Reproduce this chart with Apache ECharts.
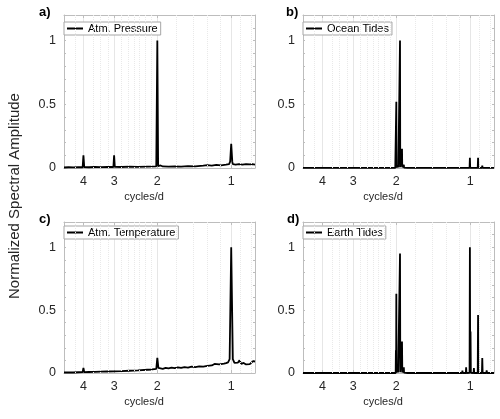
<!DOCTYPE html>
<html>
<head>
<meta charset="utf-8">
<script src="https://cdn.jsdelivr.net/npm/echarts@6/dist/echarts.min.js"></script>
<style>
  html, body { margin: 0; padding: 0; background: #fff; }
  #chart { width: 500px; height: 419px; }
</style>
</head>
<body>
<div id="chart"></div>
<script>
// tick values (cycles/d and normalized amplitude)
const xTicks = [1, 2, 3, 4]
const yTicks = [0, 0.5, 1]
// faint dotted minor grid, cycles/d
const minorGrid = [4.31, 3.66, 3.42, 3.17, 2.8, 2.63, 2.49, 2.36, 2.24, 2.12, 1.667, 1.43, 1.25, 1.11, 0.917, 0.833]

const panelNames = ['Atm. Pressure', 'Ocean Tides', 'Atm. Temperature', 'Earth Tides']
const panelLetters = ['a)', 'b)', 'c)', 'd)']

// [cycles/d, normalized amplitude]
const pressure = [
  [4.8, 0.004], [4.6, 0.006], [4.4, 0.005], [4.2, 0.007], [4.03, 0.006], [4.0, 0.10], [3.97, 0.007],
  [3.8, 0.006], [3.6, 0.008], [3.4, 0.007], [3.2, 0.009], [3.02, 0.008], [3.0, 0.10], [2.98, 0.009],
  [2.8, 0.008], [2.6, 0.010], [2.4, 0.009], [2.2, 0.011], [2.02, 0.012], [2.0, 1.0], [1.985, 0.015],
  [1.94, 0.02], [1.932, 0.035], [1.924, 0.018], [1.9, 0.012], [1.8, 0.010], [1.7, 0.013], [1.6, 0.011],
  [1.5, 0.015], [1.4, 0.013], [1.3, 0.018], [1.25, 0.022], [1.2, 0.019], [1.15, 0.024], [1.1, 0.021],
  [1.05, 0.026], [1.02, 0.03], [1.01, 0.05], [1.0, 0.19], [0.99, 0.05], [0.985, 0.03], [0.96, 0.027],
  [0.93, 0.03], [0.9, 0.026], [0.87, 0.031], [0.84, 0.028], [0.82, 0.03], [0.8, 0.027]
]
const ocean = [
  [4.8, 0.001], [4.05, 0.001], [4.0, 0.008], [3.95, 0.001], [3.0, 0.001], [2.02, 0.001], [2.005, 0.002],
  [2.0, 0.52], [1.996, 0.004], [1.97, 0.004], [1.967, 0.02], [1.962, 0.004], [1.936, 0.005], [1.932, 1.0],
  [1.928, 0.006], [1.9, 0.005], [1.896, 0.15], [1.892, 0.005], [1.866, 0.003], [1.864, 0.025], [1.86, 0.003],
  [1.8, 0.001], [1.1, 0.001], [1.006, 0.001], [1.003, 0.08], [1.0, 0.001], [0.932, 0.001], [0.929, 0.08],
  [0.926, 0.001], [0.896, 0.001], [0.893, 0.018], [0.89, 0.001], [0.8, 0.001]
]
const temperature = [
  [4.8, 0.004], [4.6, 0.005], [4.4, 0.004], [4.2, 0.006], [4.03, 0.007], [4.0, 0.04], [3.97, 0.007],
  [3.8, 0.008], [3.6, 0.009], [3.4, 0.011], [3.2, 0.012], [3.0, 0.013], [2.8, 0.015], [2.6, 0.018],
  [2.4, 0.021], [2.2, 0.026], [2.1, 0.028], [2.02, 0.032], [2.0, 0.12], [1.98, 0.04], [1.95, 0.035],
  [1.9, 0.033], [1.85, 0.04], [1.8, 0.036], [1.75, 0.042], [1.7, 0.038], [1.65, 0.045], [1.6, 0.04],
  [1.55, 0.047], [1.5, 0.043], [1.45, 0.05], [1.4, 0.046], [1.35, 0.052], [1.3, 0.05], [1.25, 0.056],
  [1.2, 0.06], [1.17, 0.072], [1.15, 0.063], [1.12, 0.068], [1.1, 0.066], [1.07, 0.074], [1.05, 0.078],
  [1.03, 0.085], [1.015, 0.11], [1.0, 1.0], [0.985, 0.11], [0.97, 0.08], [0.955, 0.07], [0.94, 0.082],
  [0.925, 0.1], [0.91, 0.072], [0.89, 0.08], [0.87, 0.068], [0.855, 0.075], [0.84, 0.07], [0.83, 0.085],
  [0.815, 0.094], [0.8, 0.09]
]
const earth = [
  [4.8, 0], [2.1, 0], [2.012, 0], [2.008, 0.18], [2.004, 0.01], [2.0, 0.63], [1.996, 0.005], [1.975, 0.005],
  [1.97, 0.04], [1.965, 0.004], [1.937, 0.005], [1.932, 0.95], [1.927, 0.006], [1.901, 0.005], [1.896, 0.25],
  [1.891, 0.005], [1.868, 0.003], [1.864, 0.045], [1.86, 0.003], [1.8, 0], [1.1, 0], [1.079, 0], [1.076, 0.02],
  [1.073, 0], [1.042, 0], [1.039, 0.045], [1.036, 0], [1.006, 0.002], [1.003, 1.0], [1.0, 0.004], [0.997, 0.33],
  [0.994, 0.002], [0.969, 0], [0.966, 0.04], [0.963, 0], [0.932, 0], [0.929, 0.46], [0.926, 0], [0.896, 0],
  [0.893, 0.12], [0.89, 0], [0.86, 0], [0.857, 0.02], [0.854, 0], [0.8, 0]
]
const panelData = [pressure, ocean, temperature, earth]

const font = 'Liberation Sans, Arial, Helvetica, sans-serif'
const boxColor = '#bdbdbd'

// plot areas, in pixels
const grids = [
  { left: 64, top: 15, width: 191, height: 153 },
  { left: 303, top: 15, width: 191, height: 153 },
  { left: 64, top: 222, width: 191, height: 151 },
  { left: 303, top: 222, width: 191, height: 151 }
]
const legendPos = [[64, 22], [303, 22], [64, 226], [303, 226]]
const letterPos = [[39, 6], [286, 6], [39, 213], [287, 213]]

var xAxes = []
var yAxes = []
var series = []
grids.forEach(function (g, i) {
  xAxes.push({
    type: 'log', gridIndex: i, min: 0.8, max: 4.8, inverse: true, position: 'bottom',
    axisLine: { show: true, onZero: false, lineStyle: { color: boxColor, width: 1 } },
    axisTick: { show: true, inside: true, length: 3, customValues: xTicks, lineStyle: { color: boxColor } },
    axisLabel: { customValues: xTicks, color: '#262626', fontSize: 12.5, margin: 7, fontFamily: font },
    splitLine: { show: true, lineStyle: { color: '#e6e6e6', width: 1 } },
    name: 'cycles/d', nameLocation: 'middle', nameGap: 23,
    nameTextStyle: { color: '#262626', fontSize: 11, fontFamily: font, padding: [0, 31, 0, 0] }
  })
  // top edge of the box
  xAxes.push({
    type: 'log', gridIndex: i, min: 0.8, max: 4.8, inverse: true, position: 'top',
    axisLine: { show: true, onZero: false, lineStyle: { color: boxColor, width: 1 } },
    axisTick: { show: true, inside: true, length: 3, customValues: xTicks, lineStyle: { color: boxColor } },
    axisLabel: { show: false },
    splitLine: { show: false }
  })
  yAxes.push({
    type: 'value', gridIndex: i, min: 0, max: 1.2, interval: 0.1, position: 'left',
    axisLine: { show: true, onZero: false, lineStyle: { color: boxColor, width: 1 } },
    axisTick: { show: true, inside: true, length: 2, lineStyle: { color: boxColor } },
    axisLabel: { customValues: yTicks, color: '#262626', fontSize: 12.5, margin: 8, fontFamily: font },
    splitLine: { show: false }
  })
  yAxes.push({
    type: 'value', gridIndex: i, min: 0, max: 1.2, interval: 0.1, position: 'right',
    axisLine: { show: true, onZero: false, lineStyle: { color: boxColor, width: 1 } },
    axisTick: { show: true, inside: true, length: 2, lineStyle: { color: boxColor } },
    axisLabel: { show: false },
    splitLine: { show: false }
  })
  series.push({
    type: 'line', name: panelNames[i], xAxisIndex: i * 2, yAxisIndex: i * 2,
    data: panelData[i], symbol: 'none', z: 3,
    lineStyle: { color: '#000', width: 1.8 }, itemStyle: { color: '#000' },
    emphasis: { disabled: true },
    markLine: {
      silent: true, symbol: ['none', 'none'], label: { show: false },
      lineStyle: { color: '#e9e9e9', type: 'dotted', width: 1 },
      data: minorGrid.map(function (f) { return { xAxis: f } })
    }
  })
})

const option = {
  animation: false,
  backgroundColor: '#fff',
  grid: grids,
  xAxis: xAxes,
  yAxis: yAxes,
  series: series,
  legend: panelNames.map(function (name, i) {
    return {
      data: [name], left: legendPos[i][0], top: legendPos[i][1], selectedMode: false,
      icon: 'rect', itemWidth: 16, itemHeight: 2, itemGap: 0, padding: [1, 3, 1, 3],
      borderColor: '#a6a6a6', borderWidth: 1, borderRadius: 0, backgroundColor: '#fff',
      textStyle: { fontSize: 11, color: '#000', fontFamily: font }
    }
  }),
  title: panelLetters.map(function (t, i) {
    return {
      text: t, left: letterPos[i][0], top: letterPos[i][1], padding: 0,
      textStyle: { fontSize: 13, fontWeight: 'bold', color: '#000', fontFamily: font }
    }
  }),
  graphic: [{
    type: 'text', x: 15, y: 196, rotation: Math.PI / 2,
    style: {
      text: 'Normalized Spectral Amplitude', fontSize: 15, fill: '#262626', fontFamily: font,
      align: 'center', verticalAlign: 'middle'
    }
  }]
}

var myChart = echarts.init(document.getElementById('chart'))
myChart.setOption(option)
</script>
</body>
</html>
